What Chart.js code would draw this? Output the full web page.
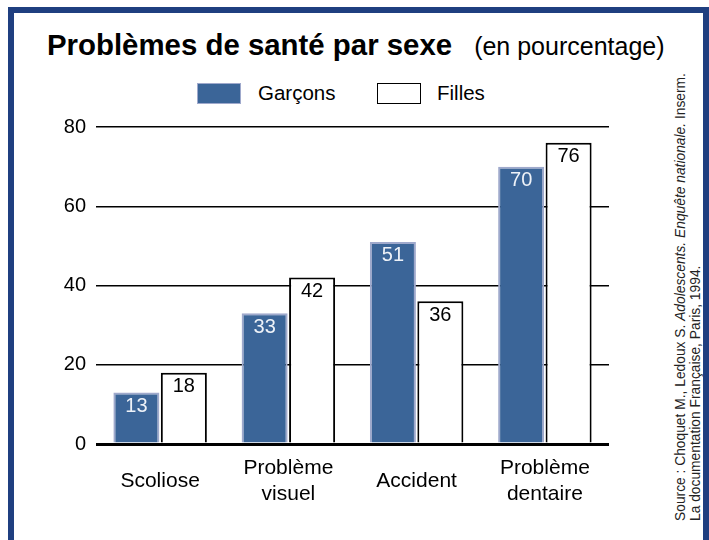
<!DOCTYPE html>
<html>
<head>
<meta charset="utf-8">
<script src="https://cdn.jsdelivr.net/npm/chart.js@4.4.1/dist/chart.umd.min.js"></script>
<style>
  body { margin: 0; background: #fff; width: 709px; height: 540px; overflow: hidden; position: relative; font-family: "Liberation Sans", Arial, sans-serif; }
  #frame { position: absolute; left: 8px; top: 7px; width: 689px; height: 600px; border: 6px solid #1f3f80; }
  #title { position: absolute; left: 47px; top: 28px; font-size: 29.4px; white-space: nowrap; color: #000; }
  #title b { font-weight: bold; }
  #title span { font-size: 25px; margin-left: 22px; }
  .lg { position: absolute; top: 81px; font-size: 20.5px; }
  .box { position: absolute; top: 83px; width: 42px; height: 19px; }
  #source { position: absolute; left: 673px; top: 521px; transform: rotate(-90deg); transform-origin: 0 0; font-size: 13.8px; line-height: 15px; white-space: nowrap; color: #222; }
  #wrap { position: absolute; left: 0; top: 105px; width: 640px; height: 435px; }
</style>
</head>
<body>
<div id="frame"></div>
<div id="title"><b>Problèmes de santé par sexe</b><span>(en pourcentage)</span></div>
<div class="box" style="left:197px;background:#3b6598;border:1px solid #9fa9cc;"></div>
<div class="lg" style="left:258px;">Garçons</div>
<div class="box" style="left:377px;background:#fff;border:1px solid #000;"></div>
<div class="lg" style="left:437px;">Filles</div>
<div id="source">Source : Choquet M., Ledoux S. <i>Adolescents. Enquête nationale.</i> Inserm.<br>La documentation Française, Paris, 1994.</div>
<div id="wrap"><canvas id="c"></canvas></div>
<script>
var categories = [["Scoliose"], ["Problème", "visuel"], ["Accident"], ["Problème", "dentaire"]];
var garcons = [13, 33, 51, 70];
var filles = [18, 42, 36, 76];
var yTicks = [0, 20, 40, 60, 80];

// valeurs écrites en haut de chaque barre
var valueLabels = {
    id: "valueLabels",
    afterDatasetsDraw: function (chart) {
        var ctx = chart.ctx;
        ctx.save();
        ctx.font = "20px 'Liberation Sans', Arial, sans-serif";
        ctx.textAlign = "center";
        ctx.textBaseline = "middle";
        chart.data.datasets.forEach(function (ds, i) {
            chart.getDatasetMeta(i).data.forEach(function (bar, j) {
                ctx.fillStyle = i === 0 ? "#eef2f8" : "#000";
                ctx.fillText(ds.data[j], bar.x, bar.y + 14);
            });
        });
        ctx.restore();
    }
};

new Chart(document.getElementById("c"), {
    type: "bar",
    data: {
        labels: categories,
        datasets: [{
            label: "Garçons",
            data: garcons,
            backgroundColor: "#3b6598",
            borderColor: "#9fa9cc",
            borderWidth: 2,
            borderSkipped: "bottom"
        }, {
            label: "Filles",
            data: filles,
            backgroundColor: "#ffffff",
            borderColor: "#000000",
            borderWidth: 2,
            borderSkipped: "bottom"
        }]
    },
    options: {
        responsive: true,
        maintainAspectRatio: false,
        animation: false,
        layout: { padding: { left: 0, right: 31, top: 10, bottom: 0 } },
        plugins: { legend: { display: false }, tooltip: { enabled: false } },
        datasets: { bar: { categoryPercentage: 0.74, barPercentage: 0.97 } },
        scales: {
            x: {
                grid: { display: false },
                border: { display: false },
                ticks: {
                    color: "#000",
                    font: { family: "'Liberation Sans', Arial, sans-serif", size: 21, lineHeight: 1.25 },
                    padding: 16,
                    crossAlign: "center",
                    maxRotation: 0
                },
                afterFit: function (s) { s.height = 96; }
            },
            y: {
                min: 0,
                max: 80,
                afterBuildTicks: function (s) { s.ticks = yTicks.map(function (v) { return { value: v }; }); },
                grid: {
                    color: "#000",
                    drawTicks: false,
                    lineWidth: function (c) { return c.tick && c.tick.value === 0 ? 3 : 1.5; }
                },
                border: { display: false },
                ticks: {
                    color: "#000",
                    padding: 10,
                    font: { family: "'Liberation Sans', Arial, sans-serif", size: 20 }
                },
                afterFit: function (s) { s.width = 96; }
            }
        }
    },
    plugins: [valueLabels]
});
</script>
</body>
</html>
